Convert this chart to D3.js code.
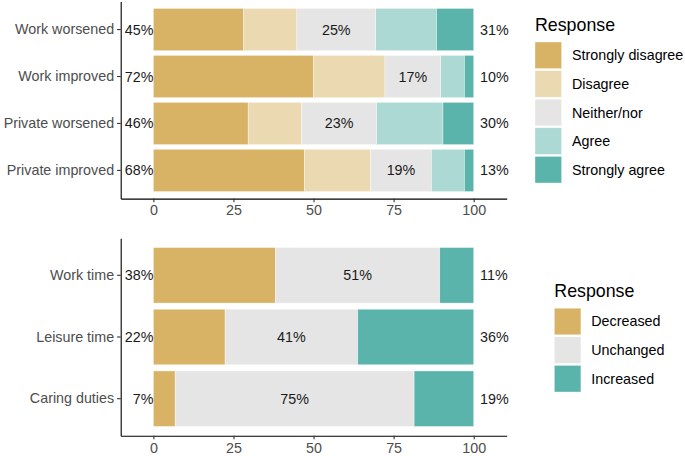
<!DOCTYPE html>
<html>
<head>
<meta charset="utf-8">
<script src="https://cdn.jsdelivr.net/npm/d3@7"></script>
<style>
  body { margin: 0; background: #fff; }
  svg { font-family: "Liberation Sans", Arial, sans-serif; }
</style>
</head>
<body>
<div id="chart"></div>
<script>
  // top panel: agreement with statements
  var agreeItems = ['Work worsened', 'Work improved', 'Private worsened', 'Private improved'];
  var agreeLevels = ['Strongly disagree', 'Disagree', 'Neither/nor', 'Agree', 'Strongly agree'];
  var agreeColours = ['#d8b365', '#ebd9b2', '#e5e5e5', '#acd9d4', '#5ab4ac'];
  var stronglyDisagree = [28.2, 50.0, 29.6, 47.2];
  var disagree         = [16.6, 22.3, 16.7, 20.6];
  var neither          = [24.6, 17.4, 23.4, 19.0];
  var agree            = [19.0, 7.4, 20.7, 10.3];
  var stronglyAgree    = [11.6, 2.9, 9.6, 2.9];

  // bottom panel: change in time use
  var changeItems = ['Work time', 'Leisure time', 'Caring duties'];
  var changeLevels = ['Decreased', 'Unchanged', 'Increased'];
  var changeColours = ['#d8b365', '#e5e5e5', '#5ab4ac'];
  var decreased = [38.1, 22.4, 6.8];
  var unchanged = [51.3, 41.4, 74.6];
  var increased = [10.6, 36.2, 18.6];

  var xTicks = [0, 25, 50, 75, 100];

  var width = 685, height = 456;

  var svg = d3.select('#chart')
    .append('svg')
    .attr('width', width)
    .attr('height', height);

  var x = d3.scaleLinear().domain([-10.2, 110.3]).range([120.7, 506.7]);

  function panel(opts) {
    var g = svg.append('g');
    var series = [];
    opts.items.forEach(function(item, i) {
      var row = { item: item };
      opts.levels.forEach(function(lev, j) { row[lev] = opts.values[j][i]; });
      series.push(row);
    });

    var y = d3.scaleBand()
      .domain(opts.items)
      .range([opts.top, opts.bottom])
      .paddingInner(0.1)
      .paddingOuter(0.15);

    var stack = d3.stack().keys(opts.levels)(series);
    var colour = d3.scaleOrdinal().domain(opts.levels).range(opts.colours);

    g.selectAll('g.layer')
      .data(stack)
      .enter().append('g')
      .attr('fill', function(d) { return colour(d.key); })
      .selectAll('rect')
      .data(function(d) { return d; })
      .enter().append('rect')
      .attr('x', function(d) { return x(d[0]); })
      .attr('width', function(d) { return x(d[1]) - x(d[0]); })
      .attr('y', function(d) { return y(d.data.item); })
      .attr('height', y.bandwidth())
      .attr('stroke', '#ffffff')
      .attr('stroke-opacity', 0.6)
      .attr('stroke-width', 0.6);

    var nLow = opts.lowKeys.length;
    var midKey = opts.levels[nLow];

    series.forEach(function(row, i) {
      var low = d3.sum(opts.lowKeys, function(k) { return row[k]; });
      var high = d3.sum(opts.highKeys, function(k) { return row[k]; });
      var cy = y(row.item) + y.bandwidth() / 2;
      var txt = g.append('g').attr('font-size', 14.3).attr('fill', '#1a1a1a');
      txt.append('text').attr('x', x(0)).attr('y', cy).attr('dy', '0.35em')
        .attr('text-anchor', 'end').text(Math.round(low) + '%');
      txt.append('text').attr('x', x(102)).attr('y', cy).attr('dy', '0.35em')
        .attr('text-anchor', 'start').text(Math.round(high) + '%');
      txt.append('text').attr('x', x(low + row[midKey] / 2)).attr('y', cy).attr('dy', '0.35em')
        .attr('text-anchor', 'middle').text(Math.round(row[midKey]) + '%');
    });

    var xAxis = g.append('g')
      .attr('transform', 'translate(0,' + opts.bottom + ')')
      .call(d3.axisBottom(x).tickValues(xTicks).tickSizeOuter(0).tickSizeInner(3.6).tickPadding(3));
    var yAxis = g.append('g')
      .attr('transform', 'translate(' + x.range()[0] + ',0)')
      .call(d3.axisLeft(y).tickSizeOuter(0).tickSizeInner(3.6).tickPadding(3));

    [xAxis, yAxis].forEach(function(a) {
      a.select('.domain').attr('stroke', '#000').attr('stroke-width', 1.1);
      a.selectAll('.tick line').attr('stroke', '#333').attr('stroke-width', 1.1);
      a.selectAll('.tick text').attr('fill', '#4d4d4d').attr('font-size', 14.3)
        .attr('font-family', '"Liberation Sans", Arial, sans-serif');
    });
    xAxis.selectAll('.tick text').attr('dy', '0.72em');

    // legend
    var leg = g.append('g').attr('transform', 'translate(' + opts.legX + ',' + opts.legY + ')');
    leg.append('text').attr('x', 0).attr('y', 0).attr('font-size', 17.8).attr('fill', '#000')
      .text('Response');
    var keyStep = 28.6, keySize = 26.6;
    opts.levels.forEach(function(lev, j) {
      var ky = 11.5 + j * keyStep;
      leg.append('rect').attr('x', 0).attr('y', ky).attr('width', keySize).attr('height', keySize)
        .attr('fill', colour(lev)).attr('stroke', '#ffffff').attr('stroke-opacity', 0.6).attr('stroke-width', 0.6);
      leg.append('text').attr('x', keySize + 10.4).attr('y', ky + keySize / 2).attr('dy', '0.35em')
        .attr('font-size', 14.3).attr('fill', '#000').text(lev);
    });
  }

  panel({
    items: agreeItems,
    levels: agreeLevels,
    colours: agreeColours,
    values: [stronglyDisagree, disagree, neither, agree, stronglyAgree],
    lowKeys: ['Strongly disagree', 'Disagree'],
    highKeys: ['Agree', 'Strongly agree'],
    top: 1.4, bottom: 198.6,
    legX: 535, legY: 30.5
  });

  panel({
    items: changeItems,
    levels: changeLevels,
    colours: changeColours,
    values: [decreased, unchanged, increased],
    lowKeys: ['Decreased'],
    highKeys: ['Increased'],
    top: 238.3, bottom: 435.7,
    legX: 554.3, legY: 296.7
  });
</script>
</body>
</html>
